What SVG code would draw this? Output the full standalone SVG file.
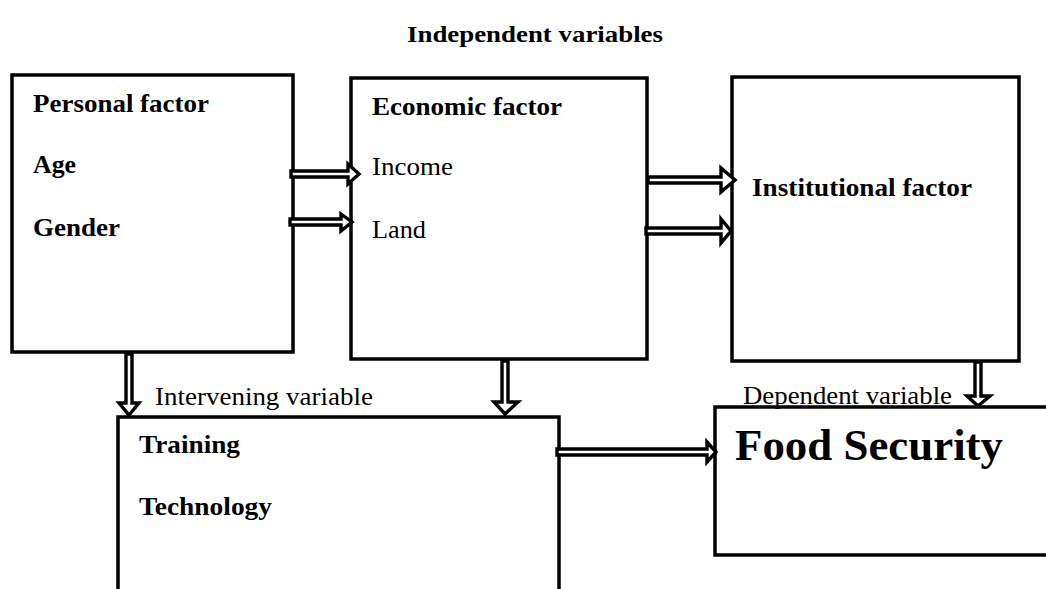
<svg xmlns="http://www.w3.org/2000/svg" width="1046" height="589" viewBox="0 0 1046 589">
<style>
.box{fill:none;stroke:#000;stroke-width:3.5}
.arr{fill:#fff;stroke:#000;stroke-width:3.4;stroke-linejoin:miter}
text{font-family:"Liberation Serif","Times New Roman",serif;fill:#000}
.b{font-weight:bold;font-size:26px}
.r{font-size:26px}
.t{font-weight:bold;font-size:24px}
.fs{font-weight:bold;font-size:44px}
</style>
<rect width="1046" height="589" fill="#fff"/>
<text class="t" x="407" y="42" textLength="256" lengthAdjust="spacingAndGlyphs">Independent variables</text>
<text class="r" x="155" y="405" textLength="218" lengthAdjust="spacingAndGlyphs">Intervening variable</text>
<text class="r" x="743" y="404" textLength="209" lengthAdjust="spacingAndGlyphs">Dependent variable</text>
<g id="personal">
<rect class="box" x="12" y="75" width="281" height="277"/>
<text class="b" x="33" y="112" textLength="176" lengthAdjust="spacingAndGlyphs">Personal factor</text>
<text class="b" x="33" y="173" textLength="43" lengthAdjust="spacingAndGlyphs">Age</text>
<text class="b" x="33" y="236" textLength="87" lengthAdjust="spacingAndGlyphs">Gender</text>
</g>
<g id="economic">
<rect class="box" x="351" y="78" width="296" height="281"/>
<text class="b" x="372" y="115" textLength="190" lengthAdjust="spacingAndGlyphs">Economic factor</text>
<text class="r" x="372" y="175" textLength="81" lengthAdjust="spacingAndGlyphs">Income</text>
<text class="r" x="372" y="238" textLength="54" lengthAdjust="spacingAndGlyphs">Land</text>
</g>
<g id="institutional">
<rect class="box" x="732" y="77" width="287" height="284"/>
<text class="b" x="752" y="196" textLength="220" lengthAdjust="spacingAndGlyphs">Institutional factor</text>
</g>
<g id="intervening">
<rect class="box" x="118" y="417" width="441" height="190"/>
<text class="b" x="139" y="453" textLength="101" lengthAdjust="spacingAndGlyphs">Training</text>
<text class="b" x="139" y="515" textLength="133" lengthAdjust="spacingAndGlyphs">Technology</text>
</g>
<g id="food">
<rect class="box" x="715" y="407" width="345" height="148"/>
<text class="fs" x="735" y="460" textLength="268" lengthAdjust="spacingAndGlyphs">Food Security</text>
</g>
<g id="connectors">
<polygon class="arr" points="291,171 348,171 348,164 359,174 348,184 348,177 291,177"/>
<polygon class="arr" points="290,219 341,219 341,214 352,222 341,231 341,225 290,225"/>
<polygon class="arr" points="648,177 721,177 721,168 735,180 721,192 721,183 648,183"/>
<polygon class="arr" points="646,228 721,228 721,219 731,231 721,243 721,234 646,234"/>
<polygon class="arr" points="126,354 126,403 119,403 129,415 139,403 132,403 132,354"/>
<polygon class="arr" points="502,361 502,402 494,402 505,414 518,402 508,402 508,361"/>
<polygon class="arr" points="975,362 975,396 967,396 978,406 990,396 981,396 981,362"/>
<polygon class="arr" points="557,449 707,449 707,442 716,452 707,462 707,455 557,455"/>
</g>
</svg>
